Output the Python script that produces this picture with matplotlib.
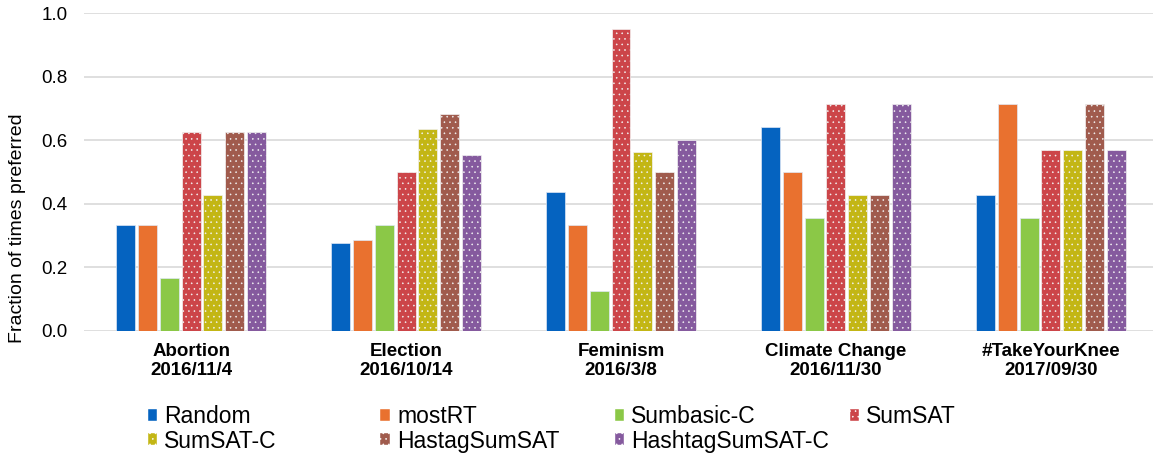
import matplotlib
matplotlib.use("Agg")
import matplotlib.pyplot as plt
import matplotlib.patches as mpatches
import numpy as np

topics = ["Abortion\n2016/11/4", "Election\n2016/10/14", "Feminism\n2016/3/8",
          "Climate Change\n2016/11/30", "#TakeYourKnee\n2017/09/30"]
methods = ["Random", "mostRT", "Sumbasic-C", "SumSAT",
           "SumSAT-C", "HastagSumSAT", "HashtagSumSAT-C"]

random_vals = [0.333, 0.278, 0.438, 0.643, 0.429]
mostrt_vals = [0.333, 0.286, 0.333, 0.500, 0.714]
sumbasic_c_vals = [0.167, 0.333, 0.125, 0.357, 0.357]
sumsat_vals = [0.625, 0.500, 0.950, 0.714, 0.571]
sumsat_c_vals = [0.429, 0.636, 0.563, 0.429, 0.571]
hastag_sumsat_vals = [0.625, 0.682, 0.500, 0.429, 0.714]
hashtag_sumsat_c_vals = [0.625, 0.553, 0.600, 0.714, 0.571]

series = [random_vals, mostrt_vals, sumbasic_c_vals, sumsat_vals,
          sumsat_c_vals, hastag_sumsat_vals, hashtag_sumsat_c_vals]
colors = ["#0563C0", "#E9712F", "#8BC847", "#CC4549",
          "#C3B615", "#A05B4D", "#855A9E"]
dotted = [False, False, False, True, True, True, True]

plt.rcParams["font.family"] = ["Liberation Sans", "DejaVu Sans"]
plt.rcParams["hatch.linewidth"] = 0.4
plt.rcParams["hatch.color"] = "white"

fig = plt.figure(figsize=(11.53, 4.54), dpi=100)
ax = fig.add_axes([0.0729, 0.271, 0.9271, 0.70])

x = np.arange(len(topics))
slot = 0.1015
width = 0.088
for i, vals in enumerate(series):
    offs = (i - 3) * slot
    ax.bar(x + offs, vals, width, color=colors[i],
           edgecolor="#f2f2f2" if dotted[i] else "#dfe8f5",
           linewidth=0.5, hatch="..." if dotted[i] else None, zorder=3)

ax.set_xlim(-0.498, 4.475)
ax.set_ylim(0, 1.0)
yt = np.arange(0, 1.01, 0.2)
ax.set_yticks(yt)
ax.set_yticklabels(["%.1f" % v for v in yt], fontsize=13.5)
ax.set_xticks(x)
ax.set_xticklabels(topics, fontsize=13.5, fontweight="bold", linespacing=1.1)
ax.tick_params(axis="both", length=0)
ax.tick_params(axis="y", pad=12)
ax.tick_params(axis="x", pad=9)
for sp in ax.spines.values():
    sp.set_visible(False)
ax.grid(axis="y", color="#d9d9d9", linewidth=1.2, zorder=0)
ax.set_axisbelow(True)
ax.set_ylabel("Fraction of times preferred", fontsize=14)
ax.yaxis.set_label_coords(-0.0545, 0.324)

# legend laid out as a fixed grid, one legend per column
col_x = [0.128, 0.330, 0.533, 0.737]
for c in range(4):
    handles = []
    for r in range(2):
        k = r * 4 + c
        if k >= len(methods):
            continue
        handles.append(mpatches.Patch(facecolor=colors[k], edgecolor="white",
                                      linewidth=0.3,
                                      hatch="..." if dotted[k] else None,
                                      label=methods[k]))
    fig.legend(handles=handles, loc="upper left",
               bbox_to_anchor=(col_x[c], 0.107), frameon=False,
               fontsize=16.5, handlelength=0.42, handleheight=0.42,
               handletextpad=0.3, labelspacing=0.05, borderpad=0,
               borderaxespad=0)

fig.savefig("out.png", dpi=100)
